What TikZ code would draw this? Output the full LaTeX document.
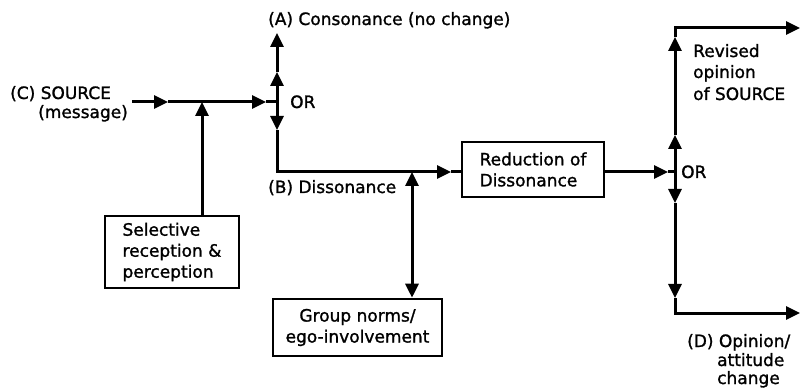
\documentclass[tikz,border=0pt]{standalone}
\usepackage{fontspec}
\setmainfont[FakeBold=1.3,AutoFakeBold=0]{DejaVu Sans}
\usetikzlibrary{arrows.meta}
\begin{document}
\begin{tikzpicture}[x=1pt,y=-1pt,
  every node/.style={font=\fontsize{17}{21}\selectfont},
  ln/.style={line width=3pt,line join=miter,line cap=butt},
  arr/.style={ln,-{Triangle[length=14pt,width=13pt]}},
  dbl/.style={ln,{Triangle[length=14pt,width=13pt]}-{Triangle[length=14pt,width=13pt]}},
  boxn/.style={draw,line width=2.6pt,inner sep=0pt},
  lbl/.style={inner sep=0pt,anchor=base west}]
\useasboundingbox (0,0) rectangle (801,390);
% boxes
\node[boxn,minimum width=134pt,minimum height=72pt,align=left] (sel) at (172,252) {Selective\\reception \&\\perception};
\node[boxn,minimum width=169pt,minimum height=57pt,align=center] (grp) at (357.5,327.5) {Group norms/\\ego-involvement};
\node[boxn,minimum width=142pt,minimum height=55pt,align=left] (red) at (533,169.5) {Reduction of\\Dissonance};
% labels
\node[lbl] (lA) at (268,25) {(A) Consonance (no change)};
\node[lbl] (lC) at (10,99) {(C) SOURCE};
\node[lbl] (lCm) at (38,118) {(message)};
\node[lbl] (or1) at (290,108) {OR};
\node[lbl] (lB) at (268,193) {(B) Dissonance};
\node[lbl] (or2) at (681,178) {OR};
\node[lbl] (rv1) at (693,57) {Revised};
\node[lbl] (rv2) at (693,78) {opinion};
\node[lbl] (rv3) at (693,100) {of SOURCE};
\node[lbl] (lD1) at (687,347) {(D) Opinion/};
\node[lbl] (lD2) at (717,366) {attitude};
\node[lbl] (lD3) at (717,384) {change};
% coordinates
\coordinate (S0) at (132,102);
\coordinate (m1) at (168,102);
\coordinate (J1) at (202,102);
\coordinate (m2) at (266,102);
\coordinate (O1) at (277,102);
\coordinate (A1) at (277,72);
\coordinate (A2) at (277,33);
\coordinate (d1) at (277,130);
\coordinate (C1) at (277,172);
\coordinate (G1) at (412,172);
\coordinate (m3) at (451,172);
\coordinate (m4) at (668,172);
\coordinate (O2) at (675,172);
\coordinate (m5) at (675,135);
\coordinate (m6) at (675,37);
\coordinate (T) at (675,28);
\coordinate (TE) at (800,28);
\coordinate (m7) at (675,203);
\coordinate (m8) at (675,298);
\coordinate (B) at (675,313);
\coordinate (BE) at (800,313);
% connectors
\draw[arr] (S0) -- (m1);
\draw[arr] (m1) -- (m2);
\draw[ln] (m2) -- (O1);
\draw[arr] (sel.north -| J1) -- (J1);
\draw[arr] (O1) -- (A1);
\draw[arr] (A1) -- (A2);
\draw[arr] (O1) -- (d1);
\draw[arr] (d1) -- (C1) -- (m3);
\draw[ln] (m3) -- (red.west |- m3);
\draw[dbl] (G1) -- (grp.north -| G1);
\draw[arr] (red.east |- O2) -- (m4);
\draw[ln] (m4) -- (O2);
\draw[arr] (O2) -- (m5);
\draw[arr] (m5) -- (m6);
\draw[arr] (m6) -- (T) -- (TE);
\draw[arr] (O2) -- (m7);
\draw[arr] (m7) -- (m8);
\draw[arr] (m8) -- (B) -- (BE);
\end{tikzpicture}
\end{document}
